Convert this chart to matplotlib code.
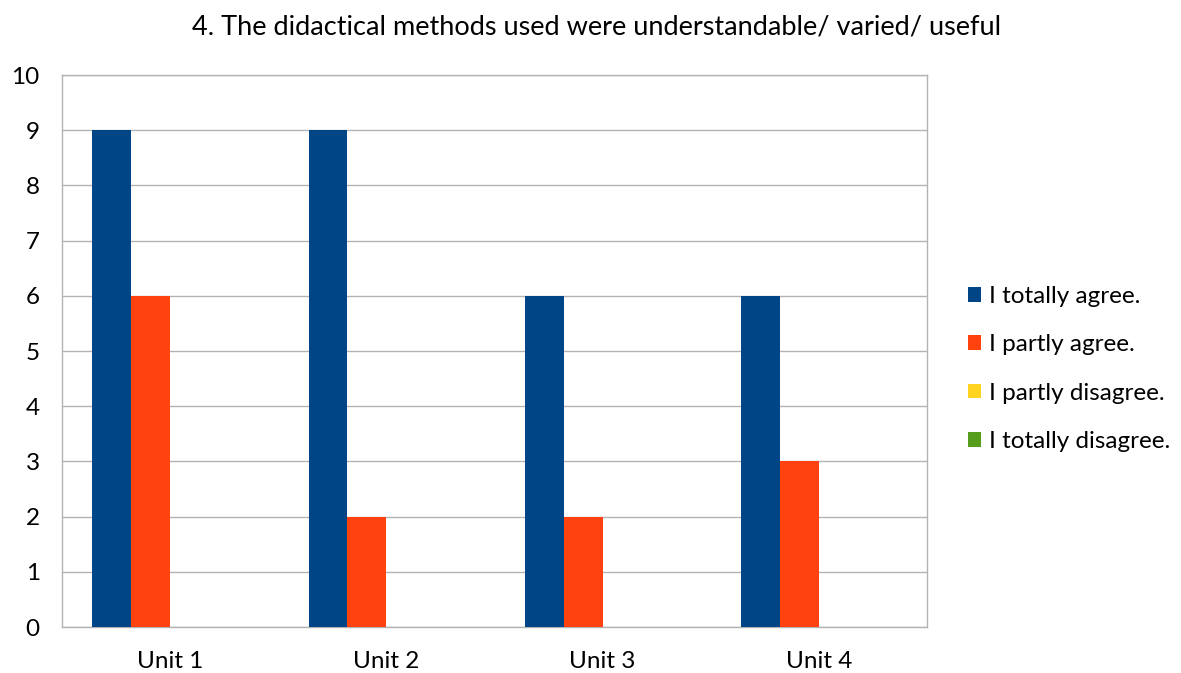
import matplotlib.pyplot as plt
import numpy as np

plt.rcParams['font.family'] = ['Lato', 'DejaVu Sans']

units = ['Unit 1', 'Unit 2', 'Unit 3', 'Unit 4']
series = ['I totally agree.', 'I partly agree.', 'I partly disagree.', 'I totally disagree.']
totally_agree = [9, 9, 6, 6]
partly_agree = [6, 2, 2, 3]
partly_disagree = [0, 0, 0, 0]
totally_disagree = [0, 0, 0, 0]
colors = ['#004586', '#ff420e', '#ffd320', '#579d1c']


def main():
    fig = plt.figure(figsize=(11.81, 6.73), dpi=100)
    ax = fig.add_axes([62 / 1181, 46 / 673, 865 / 1181, 552 / 673])

    x = np.arange(len(units))
    w = 0.18
    values = [totally_agree, partly_agree, partly_disagree, totally_disagree]
    handles = []
    for i, (name, vals) in enumerate(zip(series, values)):
        b = ax.bar(x + (i - 1.5) * w, vals, w, color=colors[i], label=name, zorder=3)
        handles.append(b)

    ax.set_xlim(-0.5, len(units) - 0.5)
    ax.set_ylim(0, 10)
    ax.set_yticks(range(0, 11))
    ax.set_xticks(x)
    ax.set_xticklabels(units)
    ax.tick_params(axis='both', length=0, labelsize=17.5, colors='#000000')
    ax.tick_params(axis='y', pad=16)
    ax.tick_params(axis='x', pad=17)
    ax.grid(axis='y', color='#b3b3b3', linewidth=1, zorder=0)
    for s in ax.spines.values():
        s.set_color('#b3b3b3')
        s.set_linewidth(1)

    fig.suptitle('4. The didactical methods used were understandable/ varied/ useful',
                 x=597 / 1181, y=1 - 27 / 673, va='center', fontsize=19.5)

    fig.legend(handles=handles, loc='center left', bbox_to_anchor=(968 / 1181, 1 - 369 / 673),
               frameon=False, fontsize=17.5, handlelength=0.55, handleheight=0.55,
               handletextpad=0.3, labelspacing=1.12, borderaxespad=0, borderpad=0)

    fig.savefig('out.png', dpi=100)


if __name__ == '__main__':
    main()
